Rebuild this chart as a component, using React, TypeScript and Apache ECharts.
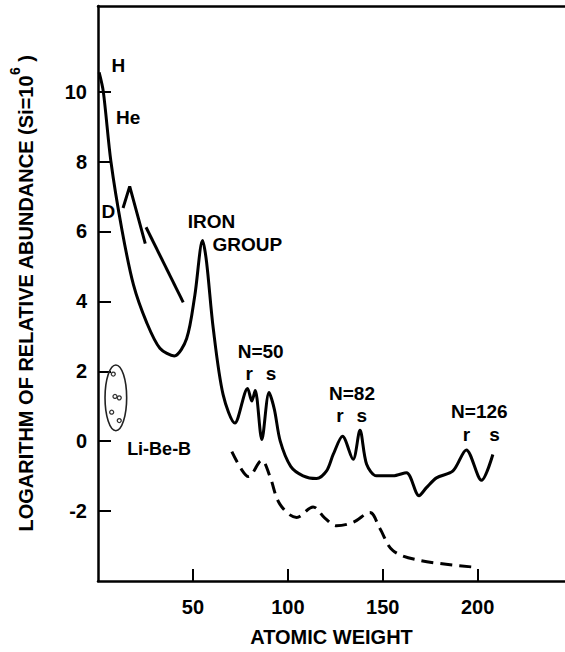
import React, { useEffect, useRef } from "react";
import * as echarts from "echarts";

const xTicks = [50, 100, 150, 200];
const yTicks = [-2, 0, 2, 4, 6, 8, 10];

// Main abundance curve (atomic weight, log abundance)
const abundanceCurve: number[][] = [
  [0.6, 10.55], [2.8, 10.0], [6.8, 8.0], [12.6, 6.05], [18.7, 4.47], [25.6, 3.4],
  [32.6, 2.66], [40.2, 2.44], [46.7, 2.94], [51.0, 4.17], [55.1, 5.74], [57.2, 5.12],
  [60.7, 3.23], [65.9, 1.33], [72.1, 0.52], [78.8, 1.51], [81.0, 1.15], [82.8, 1.45],
  [86.3, 0.05], [90.1, 1.39], [92.9, 0.91], [96.0, 0.0], [101.5, -0.72], [108.0, -0.99],
  [115.1, -1.07], [120.4, -0.85], [123.9, -0.38], [128.8, 0.14], [134.4, -0.52],
  [138.0, 0.31], [141.5, -0.66], [146.7, -0.99], [155.4, -0.99], [162.5, -0.9],
  [169.1, -1.56], [173.0, -1.33], [178.3, -1.05], [187.0, -0.85], [194.0, -0.25],
  [202.0, -1.12], [208.0, -0.38],
];

// Deuterium branch
const deuteriumPeak: number[][] = [[13.2, 6.67], [16.7, 7.29], [24.9, 5.65]];
const deuteriumTail: number[][] = [[25.3, 6.12], [44.9, 3.97]];

// Dashed curve
const dashedCurve: number[][] = [
  [70.5, -0.3], [75.5, -0.8], [79.2, -1.01], [86.3, -0.55], [90.5, -1.0], [95.8, -1.8],
  [104.6, -2.18], [113.3, -1.88], [119.5, -2.2], [125.6, -2.42], [134.4, -2.32],
  [143.2, -2.04], [148.5, -2.5], [155.4, -3.13], [169.5, -3.41], [197.5, -3.6],
];

// Li-Be-B points and enclosing ellipse [cx, cy, rx, ry]
const liBeBDots: number[][] = [[8.05, 1.92], [8.95, 1.28], [11.2, 1.24], [7.2, 0.83], [11.2, 0.59]];
const liBeBEllipse: number[][] = [[9.4, 1.24, 5.7, 0.94]];

// Annotations: [x, y, text, fontSize]
const annotations: [number, number, string, number][] = [
  [10.7, 10.74, "H", 19],
  [15.9, 9.25, "He", 19],
  [5.4, 6.57, "D", 19],
  [59.8, 6.29, "IRON", 19],
  [78.7, 5.63, "GROUP", 19],
  [85.7, 2.56, "N=50", 19],
  [79.6, 1.94, "r", 19],
  [91.2, 1.94, "s", 19],
  [133.8, 1.37, "N=82", 19],
  [127.4, 0.74, "r", 19],
  [138.9, 0.74, "s", 19],
  [200.9, 0.84, "N=126", 19],
  [194.1, 0.19, "r", 19],
  [208.9, 0.19, "s", 19],
  [32.2, -0.21, "Li-Be-B", 18],
];

const FONT = "'Liberation Sans', Arial, Helvetica, sans-serif";
const INK = "#000";

export default function App() {
  const ref = useRef<HTMLDivElement>(null);
  useEffect(() => {
    if (!ref.current) return;
    const chart = echarts.init(ref.current, undefined, { renderer: "svg" });
    const solid = { color: INK, width: 3 };
    chart.setOption({
      animation: false,
      backgroundColor: "#fff",
      grid: { left: 98, right: 0, top: 6, bottom: 68, containLabel: false },
      xAxis: [
        {
          type: "value",
          min: 0,
          max: 246,
          interval: 50,
          name: "ATOMIC WEIGHT",
          nameLocation: "middle",
          nameGap: 46,
          nameTextStyle: { fontFamily: FONT, fontWeight: "bold", fontSize: 20, color: INK },
          axisLine: { show: true, onZero: false, lineStyle: { color: INK, width: 2.5 } },
          axisTick: { show: true, inside: true, length: 12, customValues: xTicks, lineStyle: { color: INK, width: 2 } },
          axisLabel: { customValues: xTicks, margin: 16, fontFamily: FONT, fontWeight: "bold", fontSize: 20, color: INK },
          splitLine: { show: false },
        },
        {
          type: "value",
          position: "top",
          min: 0,
          max: 246,
          axisLine: { show: true, onZero: false, lineStyle: { color: INK, width: 2.5 } },
          axisTick: { show: false },
          axisLabel: { show: false },
          splitLine: { show: false },
        },
      ],
      yAxis: {
        type: "value",
        min: -4,
        max: 12.45,
        interval: 2,
        name: "{t|LOGARITHM OF RELATIVE ABUNDANCE (Si=10}{s|6}{t| )}",
        nameLocation: "middle",
        nameGap: 62,
        nameTextStyle: {
          rich: {
            t: { fontFamily: FONT, fontWeight: "bold", fontSize: 20, color: INK, lineHeight: 28, verticalAlign: "bottom" },
            s: { fontFamily: FONT, fontWeight: "bold", fontSize: 14, color: INK, lineHeight: 28, verticalAlign: "top" },
          },
        },
        axisLine: { show: true, onZero: false, lineStyle: { color: INK, width: 2.5 } },
        axisTick: { show: true, inside: true, length: 13, customValues: yTicks, lineStyle: { color: INK, width: 2 } },
        axisLabel: { customValues: yTicks, margin: 11, fontFamily: FONT, fontWeight: "bold", fontSize: 20, color: INK },
        splitLine: { show: false },
      },
      series: [
        {
          type: "line",
          data: abundanceCurve,
          showSymbol: false,
          smooth: 0.3,
          lineStyle: solid,
          silent: true,
        },
        { type: "line", data: deuteriumPeak, showSymbol: false, lineStyle: solid, silent: true },
        { type: "line", data: deuteriumTail, showSymbol: false, lineStyle: solid, silent: true },
        {
          type: "line",
          data: dashedCurve,
          showSymbol: false,
          smooth: 0.35,
          lineStyle: { color: INK, width: 3, type: [12, 7] },
          silent: true,
        },
        {
          type: "scatter",
          data: liBeBDots,
          symbol: "circle",
          symbolSize: 4,
          itemStyle: { color: "#fff", borderColor: "#333", borderWidth: 1.3, opacity: 1 },
          silent: true,
        },
        {
          type: "custom",
          data: liBeBEllipse,
          silent: true,
          renderItem: (_params: any, api: any) => {
            const c = api.coord([api.value(0), api.value(1)]);
            const s = api.size([api.value(2), api.value(3)]);
            return {
              type: "ellipse",
              shape: { cx: c[0], cy: c[1], rx: s[0], ry: s[1] },
              style: { fill: "none", stroke: "#222", lineWidth: 1.6 },
            };
          },
        },
        {
          type: "scatter",
          symbolSize: 0,
          silent: true,
          itemStyle: { color: "transparent", opacity: 1 },
          data: annotations.map((a) => ({
            value: [a[0], a[1]],
            name: a[2],
            label: { fontSize: a[3], lineHeight: Math.round(a[3] * 0.8) },
          })),
          label: {
            show: true,
            position: "inside",
            formatter: (p: any) => p.name,
            fontFamily: FONT,
            fontWeight: "bold",
            color: INK,
            opacity: 1,
            textBorderWidth: 0,
            textBorderColor: "transparent",
          },
        },
      ],
    });
    return () => chart.dispose();
  }, []);
  return (
    <div
      ref={ref}
      style={{ position: "fixed", left: 0, top: 0, width: 565, height: 652, background: "#fff" }}
    />
  );
}
